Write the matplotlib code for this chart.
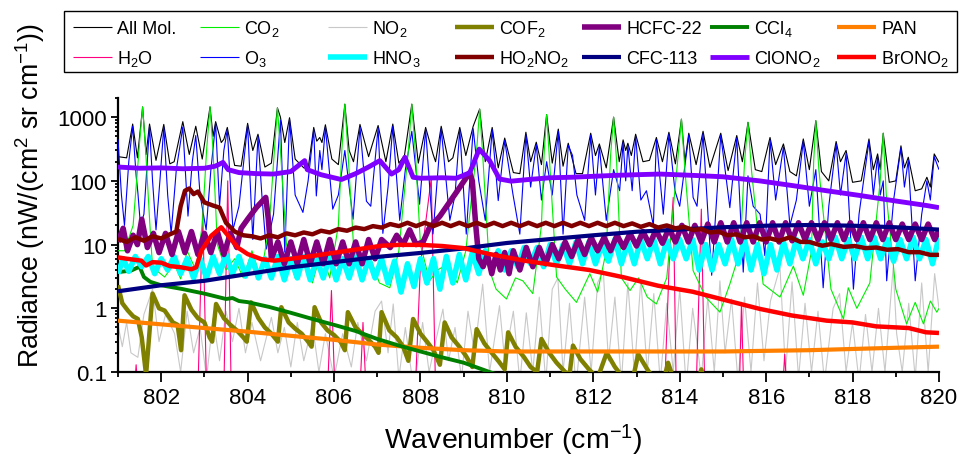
import matplotlib
matplotlib.use("Agg")
import matplotlib.pyplot as plt
from matplotlib.lines import Line2D
from matplotlib.patches import Rectangle
from matplotlib.ticker import (MultipleLocator, FixedLocator, LogLocator,
                               FuncFormatter, NullFormatter)

plt.rcParams['font.family'] = ['Liberation Sans', 'DejaVu Sans']
plt.rcParams['mathtext.fontset'] = 'custom'
plt.rcParams['mathtext.rm'] = 'Liberation Sans'
plt.rcParams['mathtext.it'] = 'Liberation Sans:italic'
plt.rcParams['mathtext.bf'] = 'Liberation Sans:bold'

# (wavenumber cm-1, radiance nW/(cm2 sr cm-1))
allmol = [
    (801.00, 240), (801.20, 230), (801.34, 780), (801.45, 230), (801.57, 1450), (801.65, 260),
    (801.73, 780), (801.88, 210), (802.06, 770), (802.20, 185), (802.30, 200), (802.50, 850),
    (802.65, 260), (802.80, 720), (802.95, 220), (803.13, 1450), (803.20, 500), (803.26, 850),
    (803.39, 400), (803.45, 450), (803.53, 690), (803.70, 175), (803.85, 170), (804.00, 800),
    (804.12, 300), (804.24, 540), (804.40, 165), (804.55, 190), (804.69, 1400), (804.76, 1000),
    (804.86, 400), (804.97, 980), (805.10, 220), (805.30, 160), (805.40, 155), (805.53, 690),
    (805.60, 420), (805.67, 480), (805.72, 400), (805.80, 760), (805.95, 220), (806.10, 180),
    (806.25, 1600), (806.35, 300), (806.45, 200), (806.60, 770), (806.80, 240), (807.02, 740),
    (807.20, 200), (807.36, 780), (807.50, 190), (807.63, 250), (807.80, 1600), (807.95, 190),
    (808.12, 690), (808.29, 265), (808.35, 200), (808.48, 720), (808.65, 200), (808.75, 230),
    (808.91, 690), (809.05, 250), (809.22, 720), (809.37, 1340), (809.50, 200), (809.66, 690),
    (809.80, 160), (809.95, 470), (810.15, 135), (810.30, 130), (810.44, 580), (810.55, 200),
    (810.68, 405), (810.80, 180), (810.92, 1100), (811.05, 190), (811.19, 650), (811.30, 170),
    (811.42, 390), (811.60, 130), (811.75, 130), (811.94, 560), (812.05, 250), (812.14, 380),
    (812.30, 160), (812.47, 1000), (812.60, 200), (812.69, 440), (812.75, 300), (812.80, 390),
    (812.88, 250), (812.98, 540), (813.15, 200), (813.30, 210), (813.46, 480), (813.60, 200),
    (813.75, 580), (813.90, 185), (814.04, 930), (814.12, 200), (814.21, 560), (814.38, 180),
    (814.54, 600), (814.70, 163), (814.95, 560), (815.12, 145), (815.32, 515), (815.45, 200),
    (815.58, 830), (815.75, 150), (815.90, 140), (816.09, 480), (816.22, 180), (816.40, 380),
    (816.55, 140), (816.70, 120), (816.86, 455), (817.00, 150), (817.15, 880), (817.28, 140),
    (817.45, 100), (817.62, 415), (817.72, 200), (817.85, 300), (818.00, 95), (818.20, 100),
    (818.38, 455), (818.48, 150), (818.58, 265), (818.64, 150), (818.71, 560), (818.85, 95),
    (819.00, 100), (819.12, 355), (819.20, 160), (819.29, 235), (819.45, 70), (819.60, 75),
    (819.72, 114), (819.80, 80), (819.89, 265), (820.00, 195),
]

o3 = [
    (801.00, 450), (801.08, 60), (801.15, 20), (801.25, 200), (801.34, 720), (801.42, 120),
    (801.46, 66), (801.52, 20), (801.60, 30), (801.73, 720), (801.80, 100), (801.88, 17),
    (801.97, 100), (802.06, 700), (802.15, 60), (802.23, 15), (802.35, 150), (802.50, 700),
    (802.62, 28), (802.72, 200), (802.80, 515), (802.90, 60), (803.04, 17), (803.15, 150),
    (803.26, 800), (803.35, 40), (803.45, 300), (803.53, 640), (803.66, 17), (803.80, 40),
    (804.00, 750), (804.12, 12), (804.24, 500), (804.33, 60), (804.43, 8.5), (804.60, 30),
    (804.76, 900), (804.86, 7.6), (804.97, 920), (805.10, 60), (805.28, 32), (805.40, 100),
    (805.53, 640), (805.59, 58), (805.67, 300), (805.72, 150), (805.80, 700), (805.97, 36),
    (806.10, 60), (806.25, 300), (806.44, 25), (806.60, 700), (806.75, 48), (806.85, 40),
    (807.02, 680), (807.13, 15), (807.25, 80), (807.36, 720), (807.52, 24), (807.65, 150),
    (807.80, 600), (807.98, 43), (808.12, 640), (808.29, 14.6), (808.48, 660), (808.68, 24),
    (808.80, 60), (808.91, 640), (809.06, 14.6), (809.22, 660), (809.35, 100), (809.50, 24),
    (809.66, 640), (809.80, 49), (809.95, 430), (810.14, 62), (810.30, 14.6), (810.44, 530),
    (810.55, 80), (810.68, 370), (810.80, 50), (810.92, 200), (811.05, 60), (811.19, 600),
    (811.30, 14.6), (811.42, 360), (811.52, 250), (811.62, 60), (811.80, 24), (811.94, 520),
    (812.05, 60), (812.14, 350), (812.30, 24), (812.47, 150), (812.61, 70), (812.69, 400),
    (812.75, 100), (812.80, 360), (812.90, 70), (812.98, 500), (813.10, 50), (813.23, 70),
    (813.39, 20), (813.46, 440), (813.62, 30), (813.75, 540), (813.89, 70), (814.00, 40),
    (814.21, 520), (814.31, 55), (814.40, 40), (814.54, 550), (814.74, 3.3), (814.95, 520),
    (815.16, 38), (815.32, 470), (815.47, 3.7), (815.58, 120), (815.70, 40), (815.86, 30),
    (815.97, 6.7), (816.09, 440), (816.22, 50), (816.40, 340), (816.55, 20), (816.70, 50),
    (816.86, 420), (817.00, 40), (817.15, 150), (817.32, 2.1), (817.45, 40), (817.62, 380),
    (817.72, 60), (817.85, 270), (818.02, 2.0), (818.15, 30), (818.38, 420), (818.48, 60),
    (818.58, 240), (818.64, 60), (818.71, 100), (818.79, 2.7), (818.95, 50), (819.12, 330),
    (819.20, 80), (819.29, 210), (819.45, 2.7), (819.60, 30), (819.72, 100), (819.80, 50),
    (819.89, 240), (820.00, 150),
]

co2 = [
    (801.00, 8), (801.15, 8), (801.35, 20), (801.50, 400), (801.57, 1450), (801.64, 300),
    (801.75, 15), (801.80, 4.4), (802.08, 3.1), (802.30, 5), (802.45, 2.9), (802.60, 8),
    (802.80, 4), (802.95, 20), (803.05, 300), (803.13, 1450), (803.20, 300), (803.30, 10),
    (803.50, 4), (803.70, 6), (803.90, 3), (804.10, 8), (804.30, 3), (804.50, 20),
    (804.62, 300), (804.69, 1400), (804.76, 300), (804.90, 10), (805.10, 3), (805.30, 5),
    (805.50, 2.5), (805.70, 8), (805.90, 3), (806.10, 20), (806.18, 300), (806.25, 1600),
    (806.32, 300), (806.45, 10), (806.65, 3), (806.85, 6), (807.05, 2.5), (807.29, 2.1),
    (807.50, 8), (807.72, 300), (807.80, 1600), (807.88, 300), (808.00, 10), (808.21, 2.7),
    (808.40, 4), (808.64, 5), (808.85, 2.5), (809.05, 8), (809.30, 300), (809.37, 1340),
    (809.45, 200), (809.60, 3.9), (809.75, 2), (809.99, 1.4), (810.20, 3), (810.37, 2.7),
    (810.60, 1.7), (810.80, 20), (810.86, 250), (810.92, 1100), (810.98, 250), (811.15, 3.1),
    (811.35, 2), (811.61, 1.24), (811.92, 3.5), (812.10, 1.8), (812.30, 8), (812.40, 250),
    (812.47, 1000), (812.54, 200), (812.65, 3), (812.85, 1.9), (813.05, 3), (813.25, 1.5),
    (813.46, 1.17), (813.70, 3), (813.95, 200), (814.04, 930), (814.12, 150), (814.31, 3.9),
    (814.60, 1.5), (814.93, 0.87), (815.16, 2.4), (815.40, 8), (815.50, 200), (815.58, 830),
    (815.66, 150), (815.93, 2.4), (816.32, 1.5), (816.63, 4.6), (816.86, 1.6), (817.05, 8),
    (817.10, 200), (817.15, 880), (817.22, 150), (817.50, 2), (817.79, 0.68), (817.90, 2.1),
    (818.10, 1), (818.40, 2.5), (818.64, 100), (818.71, 560), (818.78, 60), (819.00, 2),
    (819.25, 0.57), (819.45, 1.24), (819.64, 0.57), (819.80, 1.3), (819.95, 0.87), (820.00, 1.0),
]

h2o = [
    (801.00, 0.15), (801.03, 0.05), (801.38, 0.05), (801.42, 0.13), (801.46, 0.05),
    (802.85, 0.05), (802.96, 36), (803.05, 0.05), (803.45, 0.05), (803.54, 100), (803.62, 0.05),
    (805.85, 0.05), (805.94, 1.9), (806.02, 0.05), (806.60, 0.05), (806.67, 0.6), (806.74, 0.05),
    (807.88, 0.05), (808.00, 5), (808.25, 110), (808.35, 0.05), (813.65, 0.05), (813.77, 9),
    (813.85, 55), (813.92, 0.05), (814.38, 0.05), (814.50, 36), (814.58, 0.05), (815.38, 0.05),
    (815.43, 1.24), (815.48, 0.05), (816.38, 0.05), (816.43, 0.19), (816.48, 0.05), (820.00, 0.05),
]

no2 = [
    (801.00, 0.55), (801.10, 0.25), (801.20, 0.6), (801.30, 0.2), (801.46, 0.17), (801.60, 0.8),
    (801.80, 2.0), (801.95, 0.3), (802.10, 0.8), (802.31, 0.4), (802.45, 0.1), (802.60, 0.9),
    (802.75, 0.2), (802.90, 0.5), (803.05, 0.08), (803.20, 0.7), (803.35, 0.15), (803.50, 0.9),
    (803.65, 0.3), (803.80, 1.0), (803.95, 0.2), (804.10, 0.6), (804.30, 0.15), (804.55, 0.72),
    (804.70, 0.2), (804.85, 0.5), (805.00, 0.12), (805.15, 0.6), (805.30, 0.15), (805.50, 0.55),
    (805.65, 0.1), (805.80, 0.4), (806.00, 0.08), (806.20, 0.4), (806.40, 0.12), (806.55, 0.6),
    (806.75, 0.15), (806.95, 0.9), (807.10, 1.3), (807.25, 0.2), (807.37, 1.17), (807.50, 0.08),
    (807.65, 0.5), (807.85, 0.05), (808.05, 0.6), (808.20, 0.1), (808.35, 0.3), (808.52, 0.97),
    (808.65, 0.15), (808.80, 0.5), (808.95, 0.08), (809.10, 0.9), (809.25, 0.2), (809.44, 2.4),
    (809.60, 0.1), (809.83, 1.1), (809.95, 0.15), (810.15, 0.9), (810.30, 0.07), (810.45, 0.85),
    (810.60, 0.1), (810.75, 1.5), (810.90, 0.07), (811.05, 2.0), (811.18, 3.0), (811.30, 0.1),
    (811.45, 1.2), (811.60, 0.06), (811.80, 1.5), (811.95, 0.1), (812.10, 2.5), (812.23, 4.0),
    (812.35, 0.15), (812.50, 1.5), (812.65, 0.07), (812.80, 2.5), (812.95, 0.1), (813.10, 2.8),
    (813.25, 0.1), (813.40, 1.7), (813.55, 0.07), (813.70, 1.2), (813.85, 0.1), (814.00, 2.0),
    (814.15, 0.06), (814.30, 1.0), (814.50, 0.08), (814.65, 1.5), (814.80, 0.1), (814.93, 2.7),
    (815.05, 0.2), (815.20, 1.4), (815.35, 0.07), (815.50, 1.5), (815.65, 0.1), (815.80, 2.5),
    (815.95, 0.15), (816.10, 1.3), (816.32, 4.4), (816.45, 0.1), (816.60, 2.6), (816.75, 0.08),
    (816.90, 1.2), (817.05, 0.1), (817.20, 0.9), (817.35, 0.07), (817.55, 1.0), (817.70, 1.7),
    (817.85, 0.1), (818.00, 0.6), (818.15, 0.07), (818.30, 0.8), (818.45, 0.1), (818.60, 1.0),
    (818.75, 0.1), (818.94, 4.4), (819.02, 0.4), (819.15, 0.1), (819.30, 1.2), (819.45, 0.08),
    (819.60, 2.5), (819.75, 0.1), (819.90, 3.5), (820.00, 1.0),
]

cof2 = [
    (801.00, 2.3), (801.10, 1.2), (801.23, 0.92), (801.35, 0.75), (801.46, 0.68), (801.55, 0.35),
    (801.65, 0.09), (801.80, 1.7), (801.95, 1.0), (802.08, 0.92), (802.27, 0.6), (802.38, 0.55),
    (802.46, 0.22), (802.54, 1.6), (802.70, 0.95), (802.85, 0.7), (803.00, 0.6), (803.12, 0.35),
    (803.18, 0.3), (803.27, 1.17), (803.45, 0.7), (803.60, 0.55), (803.75, 0.45), (803.90, 0.35),
    (803.98, 0.3), (804.08, 1.24), (804.25, 0.7), (804.40, 0.5), (804.55, 0.4), (804.70, 0.3),
    (804.78, 1.04), (804.95, 0.6), (805.10, 0.48), (805.25, 0.4), (805.40, 0.3), (805.48, 0.25),
    (805.55, 1.04), (805.70, 0.6), (805.85, 0.45), (806.00, 0.38), (806.15, 0.3), (806.25, 0.22),
    (806.32, 0.87), (806.50, 0.5), (806.65, 0.4), (806.80, 0.32), (806.95, 0.25), (807.03, 0.2),
    (807.10, 0.87), (807.28, 0.45), (807.45, 0.35), (807.60, 0.25), (807.72, 0.15), (807.83, 0.68),
    (808.00, 0.4), (808.15, 0.3), (808.30, 0.22), (808.45, 0.13), (808.56, 0.6), (808.72, 0.35),
    (808.90, 0.25), (809.05, 0.18), (809.20, 0.12), (809.30, 0.47), (809.48, 0.28), (809.65, 0.2),
    (809.80, 0.15), (809.95, 0.11), (810.03, 0.42), (810.20, 0.25), (810.40, 0.17), (810.55, 0.12),
    (810.70, 0.1), (810.80, 0.33), (810.98, 0.2), (811.15, 0.14), (811.35, 0.1), (811.45, 0.09),
    (811.53, 0.26), (811.70, 0.16), (811.90, 0.11), (812.10, 0.08), (812.31, 0.2), (812.50, 0.12),
    (812.70, 0.08), (812.90, 0.07), (813.04, 0.19), (813.25, 0.11), (813.45, 0.07), (813.60, 0.06),
    (813.73, 0.14), (813.85, 0.08), (814.00, 0.06), (814.40, 0.06), (814.50, 0.11), (814.60, 0.06),
    (820.00, 0.05),
]

hcfc22 = [
    (801.00, 11), (801.12, 18), (801.22, 8), (801.35, 14), (801.45, 10), (801.55, 25),
    (801.68, 9), (801.82, 15), (801.95, 7.5), (802.10, 15), (802.25, 7), (802.40, 16),
    (802.55, 7.5), (802.70, 16), (802.85, 7), (803.00, 15), (803.15, 7.5), (803.30, 16),
    (803.45, 7), (803.60, 15), (803.75, 9), (803.85, 18), (804.00, 25), (804.20, 38),
    (804.42, 55), (804.48, 25), (804.55, 6), (804.70, 11), (804.85, 5), (805.00, 11),
    (805.15, 5), (805.30, 12), (805.45, 5), (805.60, 11), (805.75, 5), (805.90, 12),
    (806.05, 5), (806.20, 11), (806.35, 5), (806.50, 11), (806.65, 5), (806.80, 12),
    (806.95, 6), (807.10, 12), (807.30, 9), (807.45, 14), (807.60, 10), (807.75, 17),
    (807.90, 10), (808.06, 11), (808.20, 18), (808.45, 28), (808.83, 66), (809.14, 135),
    (809.20, 100), (809.28, 20), (809.35, 6), (809.45, 4.5), (809.55, 7), (809.65, 3.5),
    (809.75, 7), (809.85, 4), (809.95, 7.5), (810.05, 3.5), (810.15, 8), (810.30, 4),
    (810.45, 9), (810.60, 4.5), (810.75, 9), (810.90, 5), (811.05, 10), (811.20, 6),
    (811.35, 11), (811.50, 6.5), (811.65, 12), (811.80, 7), (811.95, 13), (812.10, 8),
    (812.25, 13), (812.40, 8), (812.55, 14), (812.70, 9), (812.85, 15), (813.00, 9.5),
    (813.15, 16), (813.30, 10), (813.45, 17), (813.60, 10.5), (813.75, 18), (813.90, 11),
    (814.05, 20), (814.20, 11), (814.35, 20), (814.50, 11), (814.65, 21), (814.80, 11),
    (814.95, 22), (815.10, 11), (815.25, 22), (815.40, 11), (815.55, 22), (815.70, 11),
    (815.85, 22), (816.00, 11), (816.15, 22), (816.30, 11), (816.45, 22), (816.60, 11.5),
    (816.75, 22), (816.90, 12), (817.05, 22), (817.20, 12), (817.35, 22), (817.50, 12),
    (817.65, 22), (817.80, 12), (817.95, 22), (818.10, 12), (818.25, 22), (818.40, 12),
    (818.55, 22), (818.70, 12), (818.85, 22), (819.00, 12), (819.15, 21), (819.30, 12),
    (819.45, 21), (819.60, 12), (819.75, 21), (819.90, 12), (820.00, 17),
]

ccl4 = [
    (801.00, 3.7), (801.30, 3.9), (801.50, 4.5), (801.60, 3.1), (801.75, 2.6), (802.00, 2.3),
    (802.50, 2.0), (803.00, 1.7), (803.50, 1.4), (803.65, 1.45), (803.80, 1.3), (804.00, 1.25),
    (804.50, 1.05), (805.00, 0.85), (805.50, 0.68), (806.00, 0.55), (806.50, 0.44), (807.00, 0.33),
    (807.50, 0.26), (808.00, 0.21), (808.50, 0.17), (809.00, 0.14), (809.60, 0.1), (809.90, 0.085),
]

pan = [
    (801, 0.64), (802, 0.56), (803, 0.49), (804, 0.43), (805, 0.37), (806, 0.32), (807, 0.27),
    (808, 0.24), (809, 0.22), (810, 0.21), (811, 0.21), (812, 0.21), (813, 0.21), (814, 0.21),
    (815, 0.21), (816, 0.215), (817, 0.22), (818, 0.23), (819, 0.24), (820, 0.25),
]

hno3 = [
    (801.00, 3.5), (801.12, 6), (801.25, 3.8), (801.40, 6.5), (801.55, 4.5), (801.70, 6.5),
    (801.85, 3.5), (802.00, 6), (802.15, 4), (802.30, 6.5), (802.45, 3.5), (802.60, 6),
    (802.75, 3), (802.90, 6), (803.05, 3), (803.20, 6.5), (803.35, 3.5), (803.50, 7),
    (803.65, 3.5), (803.80, 6.5), (803.95, 3.2), (804.10, 6), (804.25, 3), (804.40, 6),
    (804.55, 3), (804.70, 6.5), (804.85, 2.8), (805.00, 6), (805.15, 3), (805.30, 6.5),
    (805.45, 2.8), (805.60, 6), (805.75, 3), (805.90, 6.5), (806.05, 2.8), (806.20, 6),
    (806.35, 3), (806.50, 6.5), (806.65, 2.8), (806.80, 6), (806.95, 3), (807.10, 6),
    (807.25, 2.5), (807.40, 5.5), (807.55, 1.8), (807.70, 5), (807.85, 2.2), (808.00, 6),
    (808.15, 2.5), (808.30, 6), (808.45, 2), (808.60, 6.5), (808.75, 2.5), (808.90, 7),
    (809.05, 2.8), (809.20, 7.5), (809.35, 3.5), (809.50, 8), (809.65, 4), (809.80, 8),
    (809.95, 4), (810.10, 8), (810.25, 4.5), (810.40, 9), (810.55, 5), (810.70, 9),
    (810.85, 4.5), (811.00, 10), (811.15, 5), (811.30, 10), (811.45, 5), (811.60, 11),
    (811.75, 5), (811.90, 11), (812.05, 5), (812.20, 10), (812.35, 5.5), (812.50, 12),
    (812.65, 5), (812.80, 11), (812.95, 5), (813.10, 12), (813.25, 6), (813.40, 12),
    (813.55, 5), (813.70, 11.5), (813.85, 6), (814.00, 12), (814.15, 6), (814.30, 12),
    (814.45, 4), (814.60, 10), (814.75, 4), (814.90, 10), (815.05, 5), (815.20, 12),
    (815.35, 5), (815.50, 12), (815.65, 4), (815.80, 10), (815.95, 3.5), (816.10, 10),
    (816.25, 4), (816.40, 11), (816.55, 5), (816.70, 12), (816.85, 6), (817.00, 12),
    (817.15, 5), (817.30, 11), (817.45, 6), (817.60, 13), (817.75, 6), (817.90, 12),
    (818.05, 6), (818.20, 13), (818.35, 6), (818.50, 13), (818.65, 6), (818.80, 12),
    (818.95, 5.5), (819.10, 12), (819.25, 6), (819.40, 13), (819.55, 6), (819.70, 12),
    (819.85, 5), (820.00, 13),
]

ho2no2 = [
    (801.0, 12.3), (801.2, 11), (801.4, 13), (801.6, 11.5), (801.8, 13.5), (802.0, 12.5),
    (802.2, 14.5), (802.35, 16), (802.45, 40), (802.55, 70), (802.65, 76), (802.75, 62),
    (802.85, 68), (803.0, 46), (803.2, 41), (803.35, 38), (803.5, 22), (803.7, 16),
    (803.9, 14), (804.1, 13.5), (804.3, 12.5), (804.5, 14), (804.7, 13), (804.9, 15),
    (805.1, 14), (805.3, 15.5), (805.5, 14.5), (805.7, 16.5), (805.9, 15.5), (806.1, 17.5),
    (806.3, 16.5), (806.5, 18.5), (806.7, 17.5), (806.9, 19.5), (807.1, 18.5), (807.3, 21),
    (807.5, 19.5), (807.7, 22), (807.9, 19.5), (808.1, 22), (808.3, 19.5), (808.5, 22),
    (808.7, 19.5), (808.9, 22), (809.1, 19.5), (809.3, 22), (809.5, 19.5), (809.7, 22),
    (809.9, 19.5), (810.1, 22), (810.3, 19.5), (810.5, 22), (810.7, 19.5), (810.9, 22),
    (811.1, 19.5), (811.3, 22), (811.5, 19.5), (811.7, 22), (811.9, 19.5), (812.1, 22),
    (812.3, 19.5), (812.5, 22), (812.7, 19.5), (812.9, 21.5), (813.1, 19), (813.3, 21),
    (813.5, 18.5), (813.7, 20), (813.9, 18), (814.1, 19), (814.3, 17), (814.5, 17.5),
    (814.7, 15.5), (814.9, 16), (815.1, 14), (815.3, 14.5), (815.5, 13), (815.7, 13.5),
    (815.9, 12), (816.1, 12.5), (816.3, 11.5), (816.55, 13), (816.8, 11), (817.0, 11),
    (817.3, 9.6), (817.5, 10.2), (817.8, 9.2), (818.05, 9.5), (818.3, 8.8), (818.55, 9),
    (818.8, 8.3), (819.05, 8.5), (819.3, 7.6), (819.55, 7.6), (819.8, 6.9), (820.0, 6.9),
]

cfc113 = [
    (801, 1.85), (802, 2.3), (803, 2.7), (804, 3.45), (805, 4.4), (806, 5.3), (807, 6.4),
    (808, 7.4), (809, 8.7), (810, 10.6), (811, 12.2), (812, 14), (813, 15.9), (814, 17.2),
    (815, 18.7), (816, 19.8), (817, 20.3), (818, 19.8), (819, 18.7), (820, 17.2),
]

clono2 = [
    (801.0, 165), (801.5, 158), (802.0, 160), (802.5, 155), (803.0, 158), (803.25, 170),
    (803.43, 195), (803.55, 150), (803.8, 135), (804.2, 130), (804.6, 128), (805.0, 140),
    (805.32, 208), (805.38, 150), (805.7, 125), (806.17, 105), (806.5, 130), (806.79, 164),
    (807.06, 208), (807.33, 128), (807.5, 150), (807.64, 235), (807.83, 114), (808.0, 110),
    (808.5, 112), (808.83, 110), (809.14, 134), (809.36, 315), (809.6, 208), (809.83, 107),
    (810.1, 99), (810.5, 105), (811.0, 112), (811.5, 114), (812.0, 118), (812.5, 122),
    (813.0, 125), (813.54, 128), (814.31, 122), (815.0, 116), (815.85, 100), (816.63, 84),
    (817.4, 70), (818.17, 59), (818.94, 49), (819.72, 41), (820.0, 38),
]

brono2 = [
    (801.0, 6.3), (801.2, 6.0), (801.54, 5.6), (801.65, 4.7), (801.8, 5.3), (802.0, 5.2),
    (802.2, 4.6), (802.46, 4.4), (802.7, 4.1), (802.81, 4.4), (802.93, 8), (803.16, 13.8),
    (803.39, 18.7), (803.58, 13), (803.77, 9), (804.0, 7.1), (804.32, 5.9), (804.62, 5.6),
    (804.93, 5.9), (805.55, 6.7), (806.32, 8), (807.1, 9.6), (807.5, 9.9), (808.0, 9.9),
    (808.5, 9.5), (809.0, 8.8), (809.6, 7.1), (810.4, 5.6), (811.15, 4.7), (811.9, 4.0),
    (812.7, 3.07), (813.5, 2.26), (814.3, 1.82), (815.1, 1.32), (815.85, 0.98), (816.6, 0.77),
    (817.4, 0.64), (818.0, 0.6), (818.55, 0.52), (819.3, 0.49), (819.7, 0.42), (820.0, 0.41),
]

# label, data, colour, line width (pt), drawing order
styles = [
    ('NO$_2$', no2, '#c8c8c8', 0.8, 1),
    ('H$_2$O', h2o, '#ff0080', 0.8, 2),
    ('All Mol.', allmol, '#000000', 0.8, 3),
    ('O$_3$', o3, '#0000ff', 0.8, 4),
    ('CO$_2$', co2, '#00ee00', 0.8, 5),
    ('COF$_2$', cof2, '#808000', 3.2, 6),
    ('PAN', pan, '#ff8000', 3.0, 7),
    ('CCl$_4$', ccl4, '#008000', 2.8, 8),
    ('HNO$_3$', hno3, '#00ffff', 4.0, 9),
    ('HCFC-22', hcfc22, '#800080', 4.0, 10),
    ('CFC-113', cfc113, '#000080', 3.0, 11),
    ('HO$_2$NO$_2$', ho2no2, '#800000', 3.2, 12),
    ('BrONO$_2$', brono2, '#ff0000', 3.2, 13),
    ('ClONO$_2$', clono2, '#8000ff', 3.5, 14),
]

# legend: 7 columns x 2 rows, filled column by column
legend_order = ['All Mol.', 'H$_2$O', 'CO$_2$', 'O$_3$', 'NO$_2$', 'HNO$_3$',
                'COF$_2$', 'HO$_2$NO$_2$', 'HCFC-22', 'CFC-113', 'CCl$_4$',
                'ClONO$_2$', 'PAN', 'BrONO$_2$']

W, H = 960, 460
fig = plt.figure(figsize=(W / 100, H / 100), dpi=100)
ax = fig.add_axes([0.1229, 0.1891, 0.8552, 0.5957])

style_of = {}
for name, pts, color, lw, z in styles:
    wn, val = zip(*pts)
    ax.plot(wn, val, color=color, lw=lw, zorder=z,
            solid_joinstyle='round', solid_capstyle='butt')
    style_of[name] = (color, lw)

ax.set_yscale('log')
ax.set_xlim(801, 820)
ax.set_ylim(0.1, 2000)

ax.xaxis.set_major_locator(MultipleLocator(2))
ax.xaxis.set_minor_locator(MultipleLocator(1))
ax.yaxis.set_major_locator(FixedLocator([0.1, 1, 10, 100, 1000]))
ax.yaxis.set_major_formatter(FuncFormatter(lambda v, p: f'{v:g}'))
ax.yaxis.set_minor_locator(LogLocator(base=10, subs=range(2, 10)))
ax.yaxis.set_minor_formatter(NullFormatter())

for side in ['top', 'right']:
    ax.spines[side].set_visible(False)
for side in ['left', 'bottom']:
    ax.spines[side].set_linewidth(1.6)

ax.tick_params(axis='both', which='both', direction='out', width=1.3, labelsize=16)
ax.tick_params(axis='x', which='major', length=7, pad=4)
ax.tick_params(axis='x', which='minor', length=3.5)
ax.tick_params(axis='y', which='major', length=5, pad=3)
ax.tick_params(axis='y', which='minor', length=2.5)

fig.text(0.535, 0.043, 'Wavenumber (cm$^{-1}$)', fontsize=20.5, ha='center', va='center')
fig.text(0.031, 0.574, 'Radiance (nW/(cm$^{2}$ sr cm$^{-1}$))', rotation=90,
         fontsize=19.2, ha='center', va='center')

# hand-placed legend box (equal column pitch like the original)
fig.add_artist(Rectangle((64 / W, 1 - 73 / H), 893 / W, 61 / H, transform=fig.transFigure,
                         fill=False, edgecolor='black', linewidth=1.0))
col_pitch, row_y = 127.4, [28, 58]
for i, name in enumerate(legend_order):
    col, row = divmod(i, 2)
    x0 = 72.7 + col * col_pitch
    y = row_y[row]
    color, lw = style_of[name]
    fig.add_artist(Line2D([x0 / W, (x0 + 39) / W], [1 - y / H, 1 - y / H],
                          transform=fig.transFigure, color=color, lw=lw,
                          solid_capstyle='butt'))
    fig.text((x0 + 44) / W, 1 - (y + 6) / H, name, fontsize=13,
             ha='left', va='baseline')

fig.savefig('out.png', dpi=100)
